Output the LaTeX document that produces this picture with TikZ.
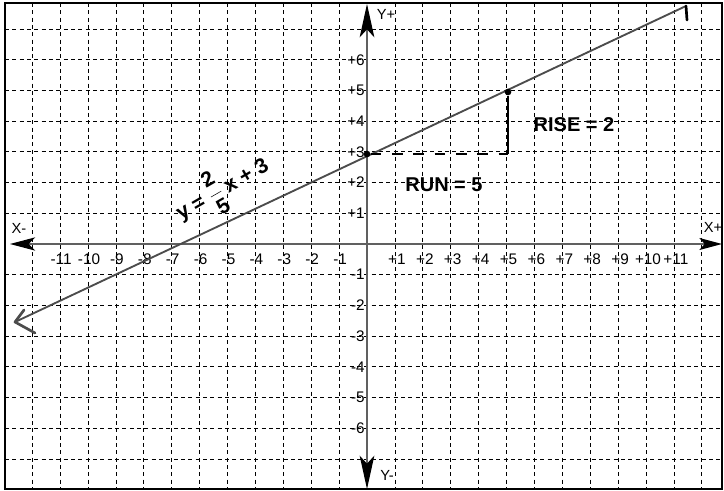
\documentclass[tikz,border=0pt]{standalone}
\usepackage{fontspec}
\setmainfont{Liberation Sans}
\usetikzlibrary{arrows.meta}
\begin{document}
\begin{tikzpicture}[x=0.75pt,y=-0.75pt,
  gridline/.style={black, line width=0.6pt, dash pattern=on 3pt off 2.5pt},
  axisline/.style={draw=gray!75!black, line width=0.9pt},
  ticklbl/.style={font=\fontsize{11.5}{13}\selectfont, inner sep=0pt},
  axislbl/.style={font=\fontsize{11}{13}\selectfont, inner sep=0pt},
  hand/.style={font=\fontsize{15}{17}\selectfont\bfseries, inner sep=0pt},
  graphline/.style={draw=gray!60!black, line width=1.4pt, line cap=round, line join=round},
  ptdot/.style={circle, fill=black, inner sep=0pt, minimum size=5pt},
  ]
\useasboundingbox (0,0) rectangle (724,491);
% grid
\foreach \k in {-12,...,-1,1,2,...,12} { \draw[gridline] ({367+27.9*\k},3) -- ({367+27.9*\k},489); }
\foreach \k in {-7,...,-1,1,2,...,7} { \draw[gridline] (5,{244+30.7*\k}) -- (722,{244+30.7*\k}); }
% frame
\draw[line width=1.5pt] (5,3) rectangle (722,489);
% axes
\coordinate (xl) at (10,244);
\coordinate (xr) at (722,244);
\coordinate (yt) at (367,4);
\coordinate (yb) at (367,489);
\draw[axisline, {Stealth[length=19pt,width=10pt,inset=5pt,color=black]}-{Stealth[length=17pt,width=9pt,inset=4pt,color=black]}] (xl) -- (xr);
\draw[axisline, {Stealth[length=25pt,width=11pt,inset=6pt,color=black]}-{Stealth[length=25pt,width=11pt,inset=6pt,color=black]}] (yt) -- (yb);
\node[axislbl] (ypl) at (386,14) {Y+};
\node[axislbl] (ymi) at (387,475) {Y-};
\node[axislbl] (xmi) at (19,228) {X-};
\node[axislbl] (xpl) at (713,227) {X+};
% tick labels
\foreach \k in {1,...,11} {
  \node[ticklbl] (xp\k) at ({367+27.9*\k+2},259) {+\k};
  \node[ticklbl] (xn\k) at ({367-27.9*\k+1},259) {-\k};
}
\foreach \k in {1,...,6} {
  \node[ticklbl,anchor=east] (yp\k) at (365,{244-30.7*\k}) {+\k};
  \node[ticklbl,anchor=east] (yn\k) at (365,{244+30.7*\k}) {-\k};
}
% graph line
\coordinate (ls) at (15,322);
\coordinate (le) at (686,6);
\draw[graphline] (ls) -- (le);
\coordinate (lh1) at (24,310);
\coordinate (lh2) at (35,333);
\draw[graphline, line width=2pt] (lh1) -- (ls) -- (lh2);
\coordinate (th) at (687,20);
\draw[graphline, line width=2pt, black] (le) -- (th);
% rise and run
\node[ptdot] (p0) at (367,154) {};
\node[ptdot] (p5) at (508,92) {};
\coordinate (r5) at (508,154);
\draw[black, line width=1.6pt, dash pattern=on 8pt off 8pt] (p0) -- (r5);
\draw[black, line width=1.6pt] (p5) -- (r5);
\node[hand] (rise) at (574,125) {RISE = 2};
\node[hand] (run) at (444,185) {RUN = 5};
\node[inner sep=0pt, rotate=30, font=\fontsize{16}{18}\selectfont\bfseries] (eqn) at (222,189)
  {y = $\displaystyle\frac{\textbf{2}}{\textbf{5}}$\,x + 3};
\end{tikzpicture}
\end{document}
